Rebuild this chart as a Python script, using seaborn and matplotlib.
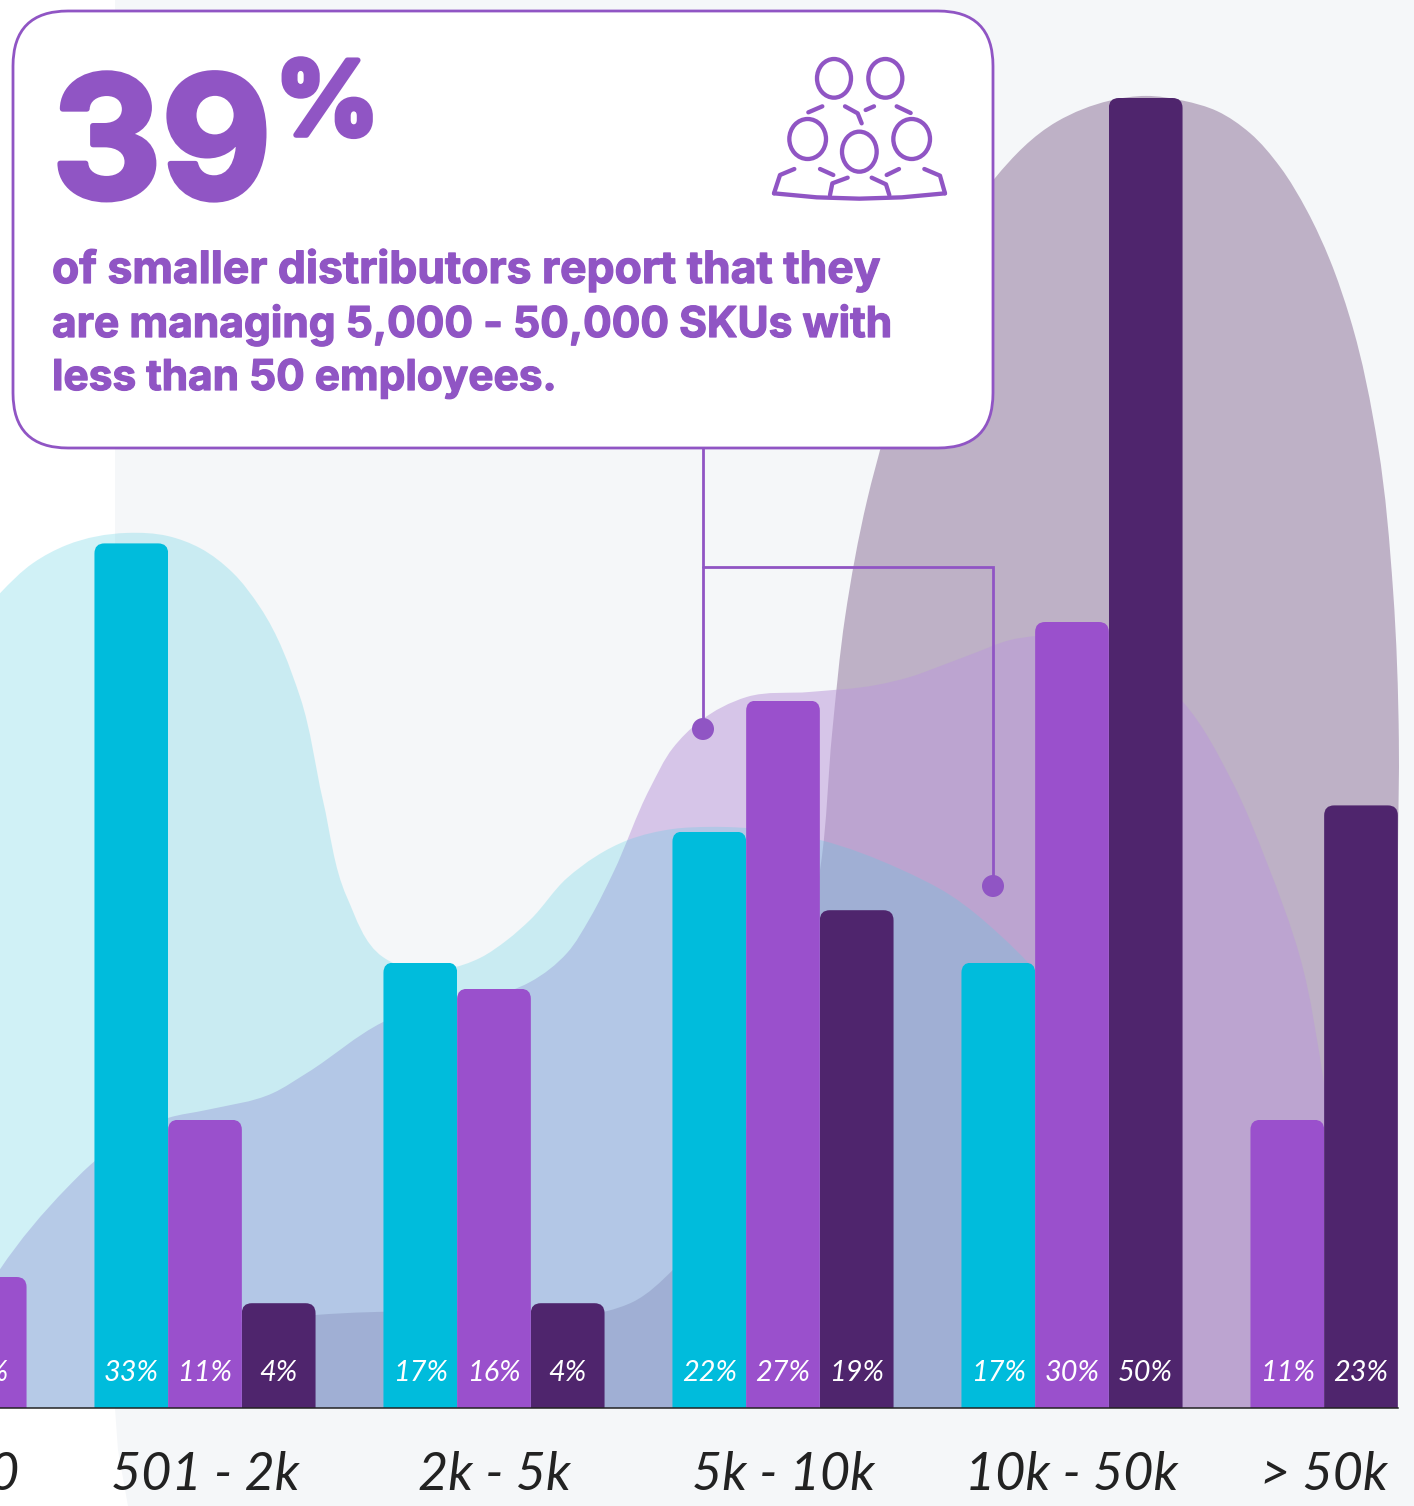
import matplotlib
matplotlib.use("Agg")
import matplotlib.pyplot as plt
import matplotlib.patheffects as pe
from matplotlib.patches import Ellipse, FancyBboxPatch, PathPatch, Polygon
from matplotlib.path import Path
from matplotlib.transforms import IdentityTransform
import numpy as np
import pandas as pd
import seaborn as sns

# SKU-count bands and the share of distributors in each, by company size
sku_bands = ["< 500", "501 - 2k", "2k - 5k", "5k - 10k", "10k - 50k", "> 50k"]
size_groups = ["small", "medium", "large"]
small_pct = [24, 33, 17, 22, 17, 0]
medium_pct = [5, 11, 16, 27, 30, 11]
large_pct = [0, 4, 4, 19, 50, 23]

# Soft backdrop outlines for each size group: band position, percent
small_curve_x = [-0.125, 0.083, 0.291, 0.405, 0.522, 0.73, 0.872, 0.983, 1.097, 1.19, 1.329,
                 1.408, 1.491, 1.616, 1.72, 1.837, 1.952, 2.045, 2.125, 2.253, 2.464, 2.619,
                 2.747, 3.128, 3.405, 3.578, 3.751, 3.875, 4.003, 4.131, 4.218]
small_curve_y = [22.4, 27.8, 31.1, 32.25, 32.94, 33.4, 33.28, 32.82, 31.87, 30.57, 27.14,
                 23.2, 19.5, 17.21, 16.72, 16.76, 17.18, 17.86, 18.63, 20.23, 21.68, 22.1,
                 22.18, 21.68, 20.57, 19.58, 18.05, 16.64, 14.05, 8.7, 0.0]
medium_curve_x = [-0.055, 0.152, 0.291, 0.522, 0.616, 0.872, 1.007, 1.235, 1.353, 1.616, 1.813,
                  2.045, 2.125, 2.253, 2.332, 2.412, 2.54, 2.619, 2.713, 2.875, 3.093, 3.325, 3.439,
                  3.554, 3.671, 3.785, 3.879, 4.003, 4.131, 4.27, 4.384, 4.557, 4.675, 4.789, 4.872, 4.945,
                  4.997]
medium_curve_y = [0.0, 2.6, 5.3, 8.4, 9.4, 11.07, 11.38, 12.02, 12.79, 14.73, 15.57,
                  15.88, 16.26, 17.37, 18.7, 20.42, 23.66, 25.19, 26.22, 27.14, 27.33, 27.6, 27.9,
                  28.36, 28.85, 29.31, 29.47, 29.5, 29.12, 28.17, 26.95, 23.85, 20.8, 17.21, 12.4, 6.03,
                  0.0]
large_curve_x = [0.637, 0.879, 1.128, 1.381, 2.128, 2.391, 2.481, 2.619, 2.886, 3.076, 3.131, 3.17, 3.215,
                 3.291, 3.422, 3.561, 3.734, 3.948, 4.131, 4.256, 4.384, 4.502, 4.616, 4.72,
                 4.813, 4.893, 4.962, 5.059, 5.111, 5.131, 5.128, 5.118]
large_curve_y = [0.0, 1.45, 3.28, 3.55, 3.7, 3.7, 4.05, 5.27, 11.0, 17.5, 20.76, 25.76, 30.2,
                 34.65, 39.6, 43.6, 46.95, 49.1, 49.9, 50.08, 49.9, 49.5, 48.66, 47.37,
                 45.7, 43.8, 41.6, 36.7, 31.2, 25.5, 21.3, 0.0]

headline_number = "39"
headline_unit = "%"
headline_lines = ["of smaller distributors report that they",
                  "are managing 5,000 - 50,000 SKUs with",
                  "less than 50 employees."]

CYAN, PURPLE, DARK = "#00BCDC", "#9A50CC", "#4F256D"
ACCENT = "#9055C4"
PANEL = "#F5F7F9"

W, H = 1414, 1506
BASE_Y = 1408
LEFT_BLEED = 200

sns.set_theme(style="white")
plt.rcParams["font.family"] = ["Lato", "DejaVu Sans"]

fig = plt.figure(figsize=(W / 100, H / 100), dpi=100, facecolor="white")

# Pale panel behind the chart
bg = fig.add_axes([0, 0, 1, 1], zorder=0)
bg.set_xlim(0, W); bg.set_ylim(H, 0); bg.axis("off")
bg.add_patch(Polygon([(115, 0), (W, 0), (W, H), (128, H), (118, 1450), (115, BASE_Y)],
                     closed=True, fc=PANEL, ec="none"))

# Chart axes run past the left edge so the first band is cropped by the figure
ax = fig.add_axes([-LEFT_BLEED / W, (H - BASE_Y) / H, (W + LEFT_BLEED) / W, BASE_Y / H], zorder=1)
ax.patch.set_visible(False)

df = pd.DataFrame({
    "band": sku_bands * 3,
    "group": np.repeat(size_groups, len(sku_bands)),
    "pct": small_pct + medium_pct + large_pct,
})
sns.barplot(data=df, x="band", y="pct", hue="group", order=sku_bands, hue_order=size_groups,
            palette=[CYAN, PURPLE, DARK], saturation=1, width=0.765, gap=0, legend=False,
            errorbar=None, linewidth=0, ax=ax)

PX_PER_BAND = 289.0
PX_PER_PCT = 26.2
BAR_SLOT = 0.765 / 3
ax.set_xlim(1 + (-LEFT_BLEED - 205) / PX_PER_BAND, 1 + (W - 205) / PX_PER_BAND)
ax.set_ylim(0, BASE_Y / PX_PER_PCT)
ax.set_xlabel(""); ax.set_ylabel("")
ax.set_yticks([])
# The outer bands hold only two bars, which sit side by side around their labels
slot_shift = {0: BAR_SLOT, len(sku_bands) - 1: -BAR_SLOT}
tick_pos = [i + slot_shift.get(i, 0.0) / 2 for i in range(len(sku_bands))]
ax.set_xticks(tick_pos, sku_bands)
ax.tick_params(axis="x", length=0, pad=31, labelsize=37.5, labelcolor="#222222")
for lab in ax.get_xticklabels():
    lab.set_fontstyle("italic")
sns.despine(ax=ax, left=True)
ax.spines["bottom"].set_color("#222222")
ax.spines["bottom"].set_linewidth(1.1)
ax.spines["bottom"].set_bounds(ax.get_xlim()[0], 1 + (1398 - 205) / PX_PER_BAND)


def smooth_area(xs, ys, color, alpha, zorder):
    """Fill below a smooth Bezier curve threaded through the outline readings."""
    p = ax.transData.transform(np.column_stack([xs, ys]))
    base_y = ax.transData.transform((0, 0))[1]
    verts = [(p[0, 0], base_y), tuple(p[0])]
    codes = [Path.MOVETO, Path.LINETO]
    seg_len = np.hypot(*(p[1:] - p[:-1]).T)
    unit = (p[1:] - p[:-1]) / seg_len[:, None]
    tang = np.zeros_like(p)
    tang[0], tang[-1] = unit[0], unit[-1]
    for i in range(1, len(p) - 1):
        # Nearer neighbours weigh more, which keeps uneven spacing from wobbling
        d = unit[i - 1] * seg_len[i] + unit[i] * seg_len[i - 1]
        tang[i] = d / np.hypot(*d)
    for i in range(len(p) - 1):
        verts += [tuple(p[i] + tang[i] * seg_len[i] / 3),
                  tuple(p[i + 1] - tang[i + 1] * seg_len[i] / 3),
                  tuple(p[i + 1])]
        codes += [Path.CURVE4] * 3
    verts += [(p[-1, 0], base_y), (p[0, 0], base_y)]
    codes += [Path.LINETO, Path.CLOSEPOLY]
    ax.add_patch(PathPatch(Path(verts, codes), fc=color, ec="none", alpha=alpha,
                           transform=IdentityTransform(), zorder=zorder))


smooth_area(large_curve_x, large_curve_y, "#4F255F", 0.33, 0.3)
smooth_area(medium_curve_x, medium_curve_y, "#BB99D9", 0.53, 0.4)
smooth_area(small_curve_x, small_curve_y, "#59CFE1", 0.28, 0.5)

# Rounded bar tops and the white value labels near the bar feet
for container, values in zip(ax.containers, [small_pct, medium_pct, large_pct]):
    for band, (bar, value) in enumerate(zip(container.patches, values)):
        if value == 0:
            bar.set_visible(False)
            continue
        bar.set_x(bar.get_x() + slot_shift.get(band, 0.0))
        (x0, y0), (x1, y1) = ax.transData.transform(
            [(bar.get_x(), bar.get_y()), (bar.get_x() + bar.get_width(), bar.get_height())])
        bar.set_zorder(2)
        bar.set_clip_path(FancyBboxPatch((x0, y0 - 30), x1 - x0, y1 - y0 + 30,
                                         boxstyle="round,pad=0,rounding_size=10",
                                         transform=IdentityTransform()))
        if x1 > 0:
            ax.text(bar.get_x() + bar.get_width() / 2, 1.35, f"{value}%", color="white", fontsize=20.8,
                    style="italic", ha="center", va="center", zorder=3)

# Callout layer, laid out in figure pixels
ov = fig.add_axes([0, 0, 1, 1], zorder=2)
ov.set_xlim(0, W); ov.set_ylim(H, 0); ov.axis("off")

ov.plot([703, 703], [448, 729], color=ACCENT, lw=2.0, solid_capstyle="butt")
ov.plot([703, 993, 993], [566.5, 566.5, 886], color=ACCENT, lw=2.0, solid_joinstyle="miter")
for cx, cy in [(703, 729), (993, 886)]:
    ov.add_patch(Ellipse((cx, cy), 22, 22, fc=ACCENT, ec="none"))

ov.add_patch(FancyBboxPatch((13, 11), 980, 437, boxstyle="round,pad=0,rounding_size=55",
                            fc="white", ec=ACCENT, lw=2.0, zorder=3))

heavy = [pe.withStroke(linewidth=4, foreground=ACCENT)]
semi = [pe.withStroke(linewidth=0.9, foreground=ACCENT)]
ov.text(52, 198, headline_number, color=ACCENT, fontsize=122, family="Inter", fontweight="bold",
        va="baseline", ha="left", zorder=4, path_effects=heavy)
ov.text(275, 135, headline_unit, color=ACCENT, fontsize=74, family="Inter", fontweight="bold",
        va="baseline", ha="left", zorder=4, path_effects=heavy)
for line, baseline, size in zip(headline_lines, [283, 337, 390], [32.0, 30.6, 30.5]):
    ov.text(52, baseline, line, color=ACCENT, fontsize=size, family="Inter", fontweight="bold",
            va="baseline", ha="left", zorder=4, path_effects=semi)


# People icon on a 600-wide grid
def icon_xy(pts):
    return [760 + a / 3 for a, _ in pts], [45 + b / 3 for _, b in pts]


for cx, cy, rx, ry in [(222, 100, 51, 58), (376, 100, 51, 58), (143, 282, 55, 60),
                       (455, 282, 55, 60), (298, 320, 52, 60)]:
    ov.add_patch(Ellipse((760 + cx / 3, 45 + cy / 3), 2 * rx / 3, 2 * ry / 3,
                         fc="none", ec=ACCENT, lw=3.1, zorder=4))
strokes = [
    [(145, 202), (187, 184)], [(255, 184), (293, 205), (305, 235)], [(317, 195), (342, 184)],
    [(410, 184), (452, 204)], [(103, 372), (60, 390), (42, 445)], [(180, 372), (220, 390)],
    [(210, 450), (217, 415), (263, 398)], [(335, 398), (378, 418), (388, 450)],
    [(380, 390), (417, 372)], [(493, 372), (540, 392), (555, 445)],
    [(42, 445), (170, 457), (298, 461), (426, 457), (555, 445)],
]
for pts in strokes:
    xs, ys = icon_xy(pts)
    ov.plot(xs, ys, color=ACCENT, lw=3.1, solid_capstyle="round", solid_joinstyle="round", zorder=4)

fig.savefig("out.png", dpi=100, facecolor="white")
